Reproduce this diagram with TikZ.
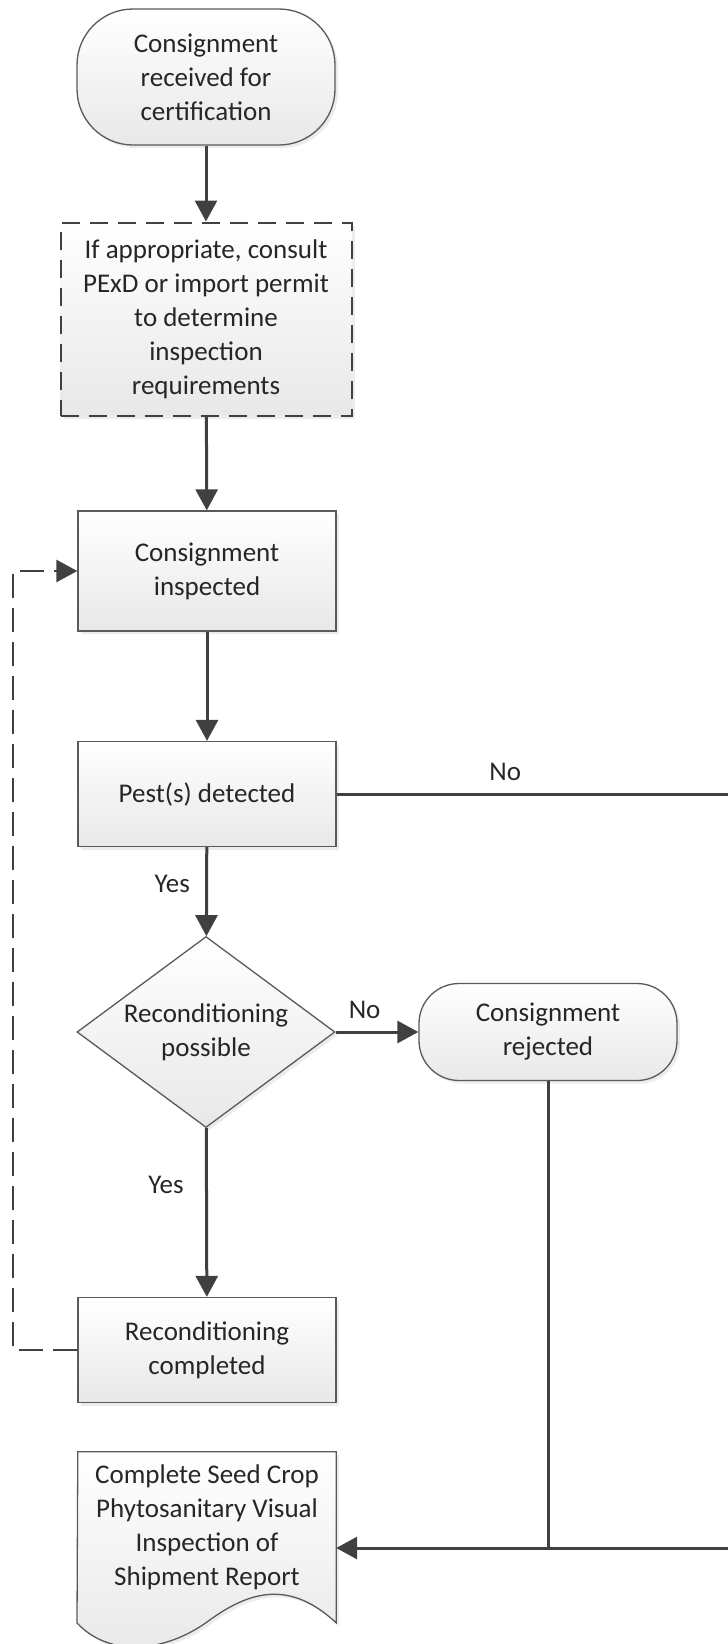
\documentclass[tikz,border=0pt]{standalone}
\usepackage{fontspec}
\setmainfont{Carlito}
\usetikzlibrary{shapes.geometric,arrows.meta,shadows,backgrounds}

\definecolor{linegray}{HTML}{404040}
\definecolor{boxgray}{HTML}{5A5A5A}
\definecolor{txtgray}{HTML}{262626}

\tikzset{
  box/.style={draw=boxgray, line width=1.3pt, top color=white, bottom color=black!9,
    drop shadow={opacity=0.15, shadow xshift=3pt, shadow yshift=-3pt},
    align=center, text=txtgray, minimum width=258pt, inner sep=2pt},
  term/.style={box, rounded corners=44pt},
  decision/.style={box, diamond, aspect=1.35, minimum height=191pt, inner sep=0pt},
  docnode/.style={align=center, text=txtgray, minimum width=258pt, minimum height=150pt, inner sep=0pt},
  flow/.style={draw=linegray, line width=3pt, -{Triangle[length=21pt,width=22pt]}},
  plain/.style={draw=linegray, line width=3pt},
  back/.style={draw=linegray, line width=2.6pt, dash pattern=on 24pt off 10pt, -{Triangle[length=21pt,width=22pt]}},
  lbl/.style={text=txtgray}
}

\begin{document}
\begin{tikzpicture}[x=1pt,y=-1pt,font=\fontsize{27}{34}\selectfont]
\useasboundingbox (0,0) rectangle (728,1644);

\node[term, minimum height=136pt, rounded corners=56pt] (start) at (206,77) {Consignment\\received for\\certification};
\node[box, minimum width=291pt, minimum height=193pt, draw=linegray, line width=2pt, dash pattern=on 18pt off 10pt] (prep) at (206,319) {If appropriate, consult\\PExD or import permit\\to determine\\inspection\\requirements};
\node[box, minimum height=120pt] (inspect) at (207,571) {Consignment\\inspected};
\node[box, minimum height=105pt] (pest) at (207,794) {Pest(s) detected};
\node[decision] (recond) at (206,1032) {Reconditioning\\possible};
\node[term, minimum height=97pt, rounded corners=40pt] (reject) at (548,1032) {Consignment\\rejected};
\node[box, minimum height=105pt] (recon) at (207,1350) {Reconditioning\\completed};
\node[docnode] (report) at (207,1527) {Complete Seed Crop\\Phytosanitary Visual\\Inspection of\\Shipment Report};

% document outline with wavy bottom
\begin{scope}[on background layer]
\path[draw=boxgray, line width=1.3pt, top color=white, bottom color=black!9,
  drop shadow={opacity=0.15, shadow xshift=3pt, shadow yshift=-3pt}]
  (report.north west) -- (report.north east) -- ++(0,171)
  .. controls (290,1580) and (250,1590) .. (207,1622)
  .. controls (165,1652) and (110,1658) .. (77,1623) -- cycle;
\end{scope}

\coordinate (join) at (548,1548);
\coordinate (edge) at (742,1548);
\coordinate (loop) at (13,960);

\path[flow] (start) -- (prep);
\path[flow] (prep) -- (inspect);
\path[flow] (inspect) -- (pest);
\path[flow] (pest) -- node[lbl, left=12pt, pos=0.41] {Yes} (recond);
\path[flow] (recond) -- node[lbl, above=8pt, pos=0.35] {No} (reject);
\path[flow] (recond) -- node[lbl, left=18pt, pos=0.34] {Yes} (recon);
\path[back] (recon.west) -| (loop) |- (inspect.west);

\path[plain] (pest.east) -- node[lbl, above=8pt, pos=0.416] {No} (pest.east -| edge) -- (edge) -- (join);
\path[flow] (reject.south) -- (join) -- (join -| report.east);
\end{tikzpicture}
\end{document}
